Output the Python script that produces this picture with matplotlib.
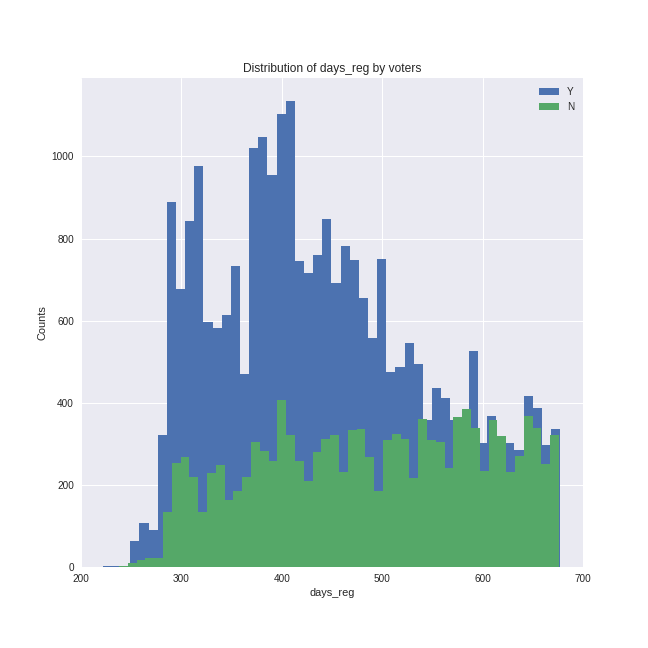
import numpy as np
import matplotlib
matplotlib.use('Agg')
import matplotlib.pyplot as plt

# counts per bin (50 bins each)
labels = ['Y', 'N']
y_range = (221.7, 677.0)
n_range = (237.9, 676.0)
y_counts = [3, 3, 2, 64, 108, 91, 322, 889, 677, 843,
            977, 597, 583, 614, 733, 471, 1020, 1047, 955, 1103,
            1135, 746, 716, 760, 848, 692, 782, 748, 656, 558,
            750, 476, 488, 546, 495, 357, 437, 412, 359, 350,
            527, 303, 369, 300, 303, 286, 417, 388, 298, 337]
n_counts = [3, 9, 16, 23, 21, 135, 254, 269, 220, 135,
            230, 249, 164, 186, 220, 305, 283, 259, 407, 322,
            259, 210, 281, 313, 322, 232, 334, 337, 269, 186,
            310, 325, 313, 218, 361, 310, 305, 242, 366, 386,
            339, 235, 359, 320, 232, 271, 369, 339, 252, 322]

plt.style.use('seaborn-v0_8')
plt.rcParams['font.family'] = ['Liberation Sans', 'DejaVu Sans']

fig = plt.figure(figsize=(9, 9), dpi=72)
fig.subplots_adjust(left=0.125, right=0.9, bottom=0.125, top=0.88)
ax = fig.add_subplot(111)

for lab, rng, cnt in [(labels[0], y_range, y_counts), (labels[1], n_range, n_counts)]:
    edges = np.linspace(rng[0], rng[1], len(cnt) + 1)
    ax.hist(edges[:-1], bins=edges, weights=cnt, label=lab)

ax.set_xlim(200, 700)
ax.set_title('Distribution of days_reg by voters')
ax.set_xlabel('days_reg')
ax.set_ylabel('Counts')
ax.legend(loc='upper right')

fig.savefig('out.png', dpi=72)
